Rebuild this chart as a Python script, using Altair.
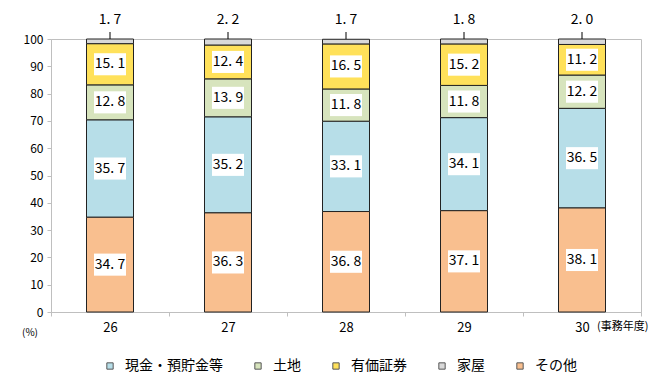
import altair as alt
import pandas as pd

years = ["26", "27", "28", "29", "30"]
categories = ["現金・預貯金等", "土地", "有価証券", "家屋", "その他"]
stack_order = {"その他": 0, "現金・預貯金等": 1, "土地": 2, "有価証券": 3, "家屋": 4}
colors = ["#B7DEE8", "#D7E4BD", "#FFE15A", "#D9D9D9", "#F9BF8F"]

cash = [35.7, 35.2, 33.1, 34.1, 36.5]
land = [12.8, 13.9, 11.8, 11.8, 12.2]
securities = [15.1, 12.4, 16.5, 15.2, 11.2]
house = [1.7, 2.2, 1.7, 1.8, 2.0]
other = [34.7, 36.3, 36.8, 37.1, 38.1]
y_ticks = [0, 10, 20, 30, 40, 50, 60, 70, 80, 90, 100]

series = {"現金・預貯金等": cash, "土地": land, "有価証券": securities, "家屋": house, "その他": other}
rows = []
for cat, vals in series.items():
    for y, v in zip(years, vals):
        rows.append({"year": y, "cat": cat, "value": v, "ord": stack_order[cat]})
df = pd.DataFrame(rows)

FONT = "Noto Sans CJK JP"

base = alt.Chart(df).transform_stack(
    stack="value", groupby=["year"], as_=["y0", "y1"], sort=[alt.SortField("ord", order="ascending")]
).transform_calculate(
    mid="(datum.y0 + datum.y1) / 2",
    label="replace(format(datum.value, '.1f'), '.', '. ')",
)

xaxis = alt.Axis(labelAngle=0, tickBand="extent", domainColor="#BFBFBF", tickColor="#BFBFBF",
                 tickSize=4, labelFontSize=13, labelColor="#000000", labelPadding=5, labelFont=FONT)
xscale = alt.Scale(paddingInner=0, paddingOuter=0)
yscale = alt.Scale(domain=[0, 100], nice=False)
yaxis = alt.Axis(values=y_ticks, tickCount=11, grid=False, domainColor="#BFBFBF", labelOverlap=False,
                 tickColor="#BFBFBF", tickSize=4, labelFontSize=12, labelColor="#000000",
                 labelPadding=4, labelFont=FONT)


def X():
    return alt.X("year:N", title=None, scale=xscale, axis=xaxis)


def Y(field):
    return alt.Y(field, title=None, scale=yscale, axis=yaxis)


bars = base.mark_bar(width=47, stroke="#222222", strokeWidth=1).encode(
    x=X(),
    y=Y("y0:Q"),
    y2="y1:Q",
    color=alt.Color("cat:N", scale=alt.Scale(domain=categories, range=colors),
                    legend=alt.Legend(title=None, orient="none", direction="horizontal",
                                      legendX=52, legendY=320, symbolType="square", symbolSize=40,
                                      symbolStrokeColor="#555555", symbolStrokeWidth=1,
                                      labelFontSize=14, labelFont=FONT, labelColor="#000000",
                                      columnPadding=28, labelOffset=8)),
)

inner = base.transform_filter("datum.cat != '家屋'")

boxes = inner.mark_point(
    shape="M-1,-0.69H1V0.69H-1Z", filled=True, fill="#FFFFFF", opacity=1, size=1024, strokeWidth=0
).encode(x=X(), y=Y("mid:Q"))

texts = inner.mark_text(fontSize=14, font=FONT, color="#000000", baseline="middle").encode(
    x=X(), y=Y("mid:Q"), text="label:N"
)

topdata = base.transform_filter("datum.cat == '家屋'")
leader = topdata.mark_rule(color="#000000", strokeWidth=1).encode(
    x=X(), y=alt.datum(100), y2=alt.value(-7)
)
toptext = topdata.mark_text(fontSize=14, font=FONT, color="#000000", baseline="middle", dy=-19).encode(
    x=X(), y=alt.datum(100), text="label:N"
)

pct = alt.Chart(pd.DataFrame({"t": ["(%)"]})).mark_text(
    fontSize=10, font=FONT, color="#000000", align="center", baseline="middle"
).encode(x=alt.value(-21), y=alt.value(21 + 273), text="t:N")

unit = alt.Chart(pd.DataFrame({"t": ["(事務年度)"]})).mark_text(
    fontSize=11, font=FONT, color="#000000", align="left", baseline="middle"
).encode(x=alt.value(546), y=alt.value(15 + 273), text="t:N")

chart = alt.layer(bars, boxes, texts, leader, toptext, pct, unit).properties(
    width=590, height=273,
    autosize=alt.AutoSizeParams(type="none"),
    padding={"left": 43, "top": 31, "right": 17, "bottom": 72},
).configure_view(stroke="#BFBFBF", strokeWidth=1)

chart.save("out.html", embed_options={"renderer": "svg", "actions": False})
